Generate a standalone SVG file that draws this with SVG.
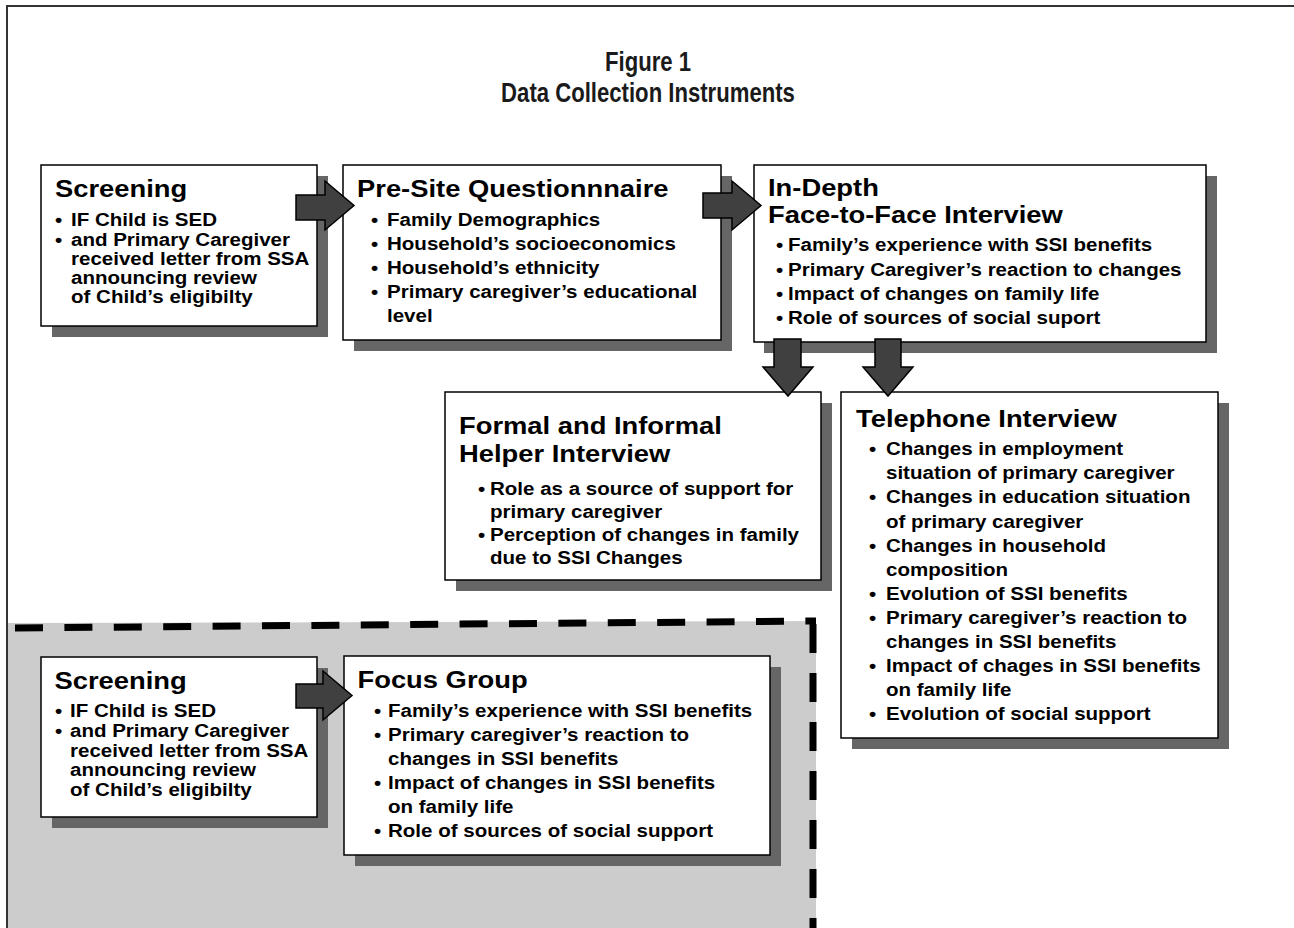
<svg xmlns="http://www.w3.org/2000/svg" width="1294" height="928" viewBox="0 0 1294 928">
<style>
.frame{fill:none;stroke:#333;stroke-width:2}
.shadow{fill:#666}
.box{fill:#fff;stroke:#000;stroke-width:1.5}
.h{font-family:"Liberation Sans",Arial,sans-serif;font-weight:bold;font-size:24px;fill:#000}
.t{font-family:"Liberation Sans",Arial,sans-serif;font-weight:bold;font-size:18.5px;fill:#000}
.title{font-family:"Liberation Sans",Arial,sans-serif;font-weight:bold;font-size:27px;fill:#1a1a1a;text-anchor:middle}
.arrow{fill:#404040;stroke:#000;stroke-width:1.5}
.dash{fill:none;stroke:#000;stroke-width:7}
</style>
<rect x="0" y="0" width="1294" height="928" fill="#fff"/>
<rect class="frame" x="7" y="6" width="1320" height="960"/>
<g id="title">
<text class="title" transform="translate(648,71) scale(0.82,1)">Figure 1</text>
<text class="title" transform="translate(648,102) scale(0.82,1)">Data Collection Instruments</text>
</g>
<g id="focus-region">
<polygon points="8,623 816,621 816,928 8,928" fill="#cccccc"/>
<line class="dash" x1="15" y1="628" x2="816" y2="621" stroke-dasharray="28 21.4"/>
<line class="dash" x1="813" y1="624" x2="813" y2="928" stroke-dasharray="29 20"/>
</g>
<g id="screening1">
<rect class="shadow" x="52" y="176" width="276" height="161"/>
<rect class="box" x="41" y="165" width="276" height="161"/>
<text class="h" transform="translate(55,197) scale(1.14,1)">Screening</text>
<text class="t" transform="translate(55,226) scale(1.11,1)">•</text>
<text class="t" transform="translate(71,226) scale(1.11,1)">IF Child is SED</text>
<text class="t" transform="translate(55,245.5) scale(1.11,1)">•</text>
<text class="t" transform="translate(71,245.5) scale(1.11,1)">and Primary Caregiver</text>
<text class="t" transform="translate(71,265) scale(1.11,1)">received letter from SSA</text>
<text class="t" transform="translate(71,284) scale(1.11,1)">announcing review</text>
<text class="t" transform="translate(71,303) scale(1.11,1)">of Child’s eligibilty</text>
</g>
<g id="presite">
<rect class="shadow" x="354" y="176" width="378" height="175"/>
<rect class="box" x="343" y="165" width="378" height="175"/>
<text class="h" transform="translate(357,197) scale(1.14,1)">Pre-Site Questionnnaire</text>
<text class="t" transform="translate(371,226) scale(1.11,1)">•</text>
<text class="t" transform="translate(387,226) scale(1.11,1)">Family Demographics</text>
<text class="t" transform="translate(371,250) scale(1.11,1)">•</text>
<text class="t" transform="translate(387,250) scale(1.11,1)">Household’s socioeconomics</text>
<text class="t" transform="translate(371,274) scale(1.11,1)">•</text>
<text class="t" transform="translate(387,274) scale(1.11,1)">Household’s ethnicity</text>
<text class="t" transform="translate(371,298) scale(1.11,1)">•</text>
<text class="t" transform="translate(387,298) scale(1.11,1)">Primary caregiver’s educational</text>
<text class="t" transform="translate(387,322) scale(1.11,1)">level</text>
</g>
<g id="indepth">
<rect class="shadow" x="764" y="176" width="453" height="177"/>
<rect class="box" x="754" y="165" width="452" height="177"/>
<text class="h" transform="translate(768,196) scale(1.14,1)">In-Depth</text>
<text class="h" transform="translate(768,223) scale(1.14,1)">Face-to-Face Interview</text>
<text class="t" transform="translate(776,251) scale(1.11,1)">•</text>
<text class="t" transform="translate(788,251) scale(1.11,1)">Family’s experience with SSI benefits</text>
<text class="t" transform="translate(776,275.5) scale(1.11,1)">•</text>
<text class="t" transform="translate(788,275.5) scale(1.11,1)">Primary Caregiver’s reaction to changes</text>
<text class="t" transform="translate(776,300) scale(1.11,1)">•</text>
<text class="t" transform="translate(788,300) scale(1.11,1)">Impact of changes on family life</text>
<text class="t" transform="translate(776,324) scale(1.11,1)">•</text>
<text class="t" transform="translate(788,324) scale(1.11,1)">Role of sources of social suport</text>
</g>
<g id="helper">
<rect class="shadow" x="456" y="403" width="376" height="188"/>
<rect class="box" x="445" y="392" width="376" height="188"/>
<text class="h" transform="translate(459,434) scale(1.14,1)">Formal and Informal</text>
<text class="h" transform="translate(459,462) scale(1.14,1)">Helper Interview</text>
<text class="t" transform="translate(478,495) scale(1.11,1)">•</text>
<text class="t" transform="translate(490,495) scale(1.11,1)">Role as a source of support for</text>
<text class="t" transform="translate(490,518) scale(1.11,1)">primary caregiver</text>
<text class="t" transform="translate(478,541) scale(1.11,1)">•</text>
<text class="t" transform="translate(490,541) scale(1.11,1)">Perception of changes in family</text>
<text class="t" transform="translate(490,564) scale(1.11,1)">due to SSI Changes</text>
</g>
<g id="telephone">
<rect class="shadow" x="852" y="403" width="377" height="346"/>
<rect class="box" x="841" y="392" width="377" height="346"/>
<text class="h" transform="translate(856,427) scale(1.14,1)">Telephone Interview</text>
<text class="t" transform="translate(869,455) scale(1.11,1)">•</text>
<text class="t" transform="translate(886,455) scale(1.11,1)">Changes in employment</text>
<text class="t" transform="translate(886,479) scale(1.11,1)">situation of primary caregiver</text>
<text class="t" transform="translate(869,503) scale(1.11,1)">•</text>
<text class="t" transform="translate(886,503) scale(1.11,1)">Changes in education situation</text>
<text class="t" transform="translate(886,527.5) scale(1.11,1)">of primary caregiver</text>
<text class="t" transform="translate(869,552) scale(1.11,1)">•</text>
<text class="t" transform="translate(886,552) scale(1.11,1)">Changes in household</text>
<text class="t" transform="translate(886,576) scale(1.11,1)">composition</text>
<text class="t" transform="translate(869,600) scale(1.11,1)">•</text>
<text class="t" transform="translate(886,600) scale(1.11,1)">Evolution of SSI benefits</text>
<text class="t" transform="translate(869,624) scale(1.11,1)">•</text>
<text class="t" transform="translate(886,624) scale(1.11,1)">Primary caregiver’s reaction to</text>
<text class="t" transform="translate(886,648) scale(1.11,1)">changes in SSI benefits</text>
<text class="t" transform="translate(869,672) scale(1.11,1)">•</text>
<text class="t" transform="translate(886,672) scale(1.11,1)">Impact of chages in SSI benefits</text>
<text class="t" transform="translate(886,696) scale(1.11,1)">on family life</text>
<text class="t" transform="translate(869,720) scale(1.11,1)">•</text>
<text class="t" transform="translate(886,720) scale(1.11,1)">Evolution of social support</text>
</g>
<g id="screening2">
<rect class="shadow" x="52" y="668" width="276" height="160"/>
<rect class="box" x="41" y="657" width="276" height="160"/>
<text class="h" transform="translate(54.5,689) scale(1.14,1)">Screening</text>
<text class="t" transform="translate(55,717) scale(1.11,1)">•</text>
<text class="t" transform="translate(70,717) scale(1.11,1)">IF Child is SED</text>
<text class="t" transform="translate(55,737) scale(1.11,1)">•</text>
<text class="t" transform="translate(70,737) scale(1.11,1)">and Primary Caregiver</text>
<text class="t" transform="translate(70,756.5) scale(1.11,1)">received letter from SSA</text>
<text class="t" transform="translate(70,776) scale(1.11,1)">announcing review</text>
<text class="t" transform="translate(70,795.5) scale(1.11,1)">of Child’s eligibilty</text>
</g>
<g id="focus">
<rect class="shadow" x="355" y="667" width="426" height="199"/>
<rect class="box" x="344" y="656" width="426" height="199"/>
<text class="h" transform="translate(357.5,688) scale(1.14,1)">Focus Group</text>
<text class="t" transform="translate(374,717) scale(1.11,1)">•</text>
<text class="t" transform="translate(388,717) scale(1.11,1)">Family’s experience with SSI benefits</text>
<text class="t" transform="translate(374,741) scale(1.11,1)">•</text>
<text class="t" transform="translate(388,741) scale(1.11,1)">Primary caregiver’s reaction to</text>
<text class="t" transform="translate(388,765) scale(1.11,1)">changes in SSI benefits</text>
<text class="t" transform="translate(374,789) scale(1.11,1)">•</text>
<text class="t" transform="translate(388,789) scale(1.11,1)">Impact of changes in SSI benefits</text>
<text class="t" transform="translate(388,813) scale(1.11,1)">on family life</text>
<text class="t" transform="translate(374,837) scale(1.11,1)">•</text>
<text class="t" transform="translate(388,837) scale(1.11,1)">Role of sources of social support</text>
</g>
<g id="connectors">
<polygon class="arrow" points="296,195 325,195 325,181 354,205.5 325,230 325,220 296,220"/>
<polygon class="arrow" points="703,193 732,193 732,181 761,205.5 732,230 732,218 703,218"/>
<polygon class="arrow" points="296,684 323,684 323,671 352,695.5 323,720 323,708 296,708"/>
<polygon class="arrow" points="774,339 801,339 801,367 813,367 788,396 763,367 774,367"/>
<polygon class="arrow" points="875,339 901,339 901,367 913,367 888,396 863,367 875,367"/>
</g>
</svg>
